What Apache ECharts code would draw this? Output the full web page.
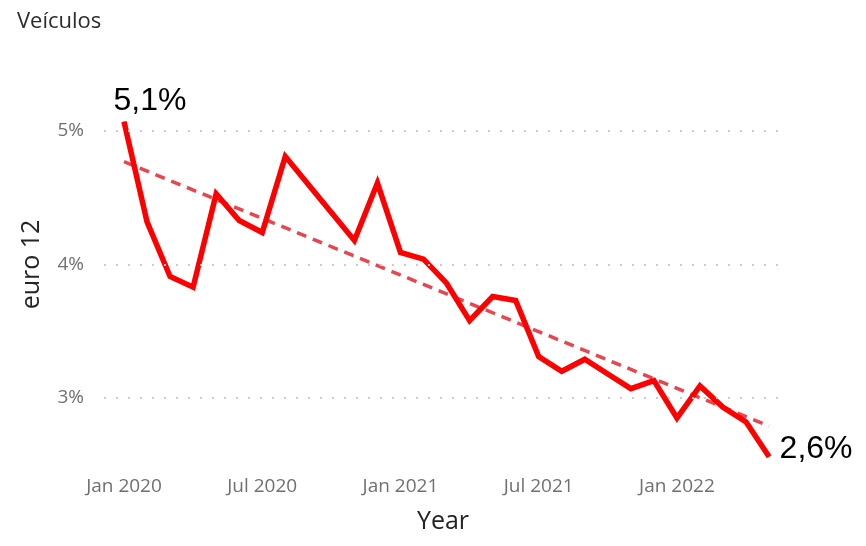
<!DOCTYPE html>
<html>
<head>
<meta charset="utf-8">
<script src="https://cdn.jsdelivr.net/npm/echarts@6/dist/echarts.min.js"></script>
<style>
html,body{margin:0;padding:0;background:#fff;}
#chart{width:866px;height:546px;}
</style>
</head>
<body>
<div id="chart"></div>
<script>
// ---- data ----
const categories = ['Jan 2020','Feb 2020','Mar 2020','Apr 2020','May 2020','Jun 2020','Jul 2020','Aug 2020','Sep 2020','Oct 2020','Nov 2020','Dec 2020',
  'Jan 2021','Feb 2021','Mar 2021','Apr 2021','May 2021','Jun 2021','Jul 2021','Aug 2021','Sep 2021','Oct 2021','Nov 2021','Dec 2021',
  'Jan 2022','Feb 2022','Mar 2022','Apr 2022','May 2022'];
const euro12 = [5.07, 4.32, 3.91, 3.83, 4.53, 4.33, 4.24, 4.81, 4.60, 4.39, 4.18, 4.61,
  4.09, 4.04, 3.86, 3.58, 3.76, 3.73, 3.31, 3.20, 3.29, 3.18, 3.07, 3.13,
  2.85, 3.09, 2.93, 2.82, 2.56];
const trendEnds = [4.77, 2.79];
const xTickLabels = ['Jan 2020','Jul 2020','Jan 2021','Jul 2021','Jan 2022'];
const yTickValues = [3, 4, 5];

const xTickIdx = xTickLabels.map(l => categories.indexOf(l));
const last = euro12.length - 1;
const fmtPct = v => v.toFixed(1).replace('.', ',') + '%';

const lineData = euro12.map((v, i) => {
  const item = { value: [i, v] };
  if (i === 0) {
    item.label = { show: true, position: 'top', distance: 3, offset: [26, -1] };
  } else if (i === last) {
    item.label = { show: true, position: 'right', distance: 10, offset: [0, -8] };
  }
  return item;
});

const chart = echarts.init(document.getElementById('chart'), null, { renderer: 'canvas' });
chart.setOption({
  animation: false,
  backgroundColor: '#ffffff',
  title: {
    text: 'Veículos', left: 12, top: 6,
    textStyle: { fontFamily: 'Open Sans', fontSize: 22, fontWeight: 500, color: '#2b2b2b' }
  },
  grid: { left: 104, right: 84, top: 64.25, bottom: 81.25 },
  xAxis: {
    type: 'value', min: -0.868, max: 28.56,
    name: 'Year', nameLocation: 'middle', nameGap: 45,
    nameTextStyle: { fontFamily: 'Open Sans', fontSize: 25, color: '#252423' },
    axisLine: { show: false }, axisTick: { show: false }, splitLine: { show: false },
    axisLabel: {
      customValues: xTickIdx, margin: 12,
      fontFamily: 'Open Sans', fontSize: 19, color: '#707070',
      formatter: v => categories[Math.round(v)]
    }
  },
  yAxis: {
    type: 'value', min: 2.5, max: 5.5,
    name: 'euro 12', nameLocation: 'middle', nameGap: 60, nameRotate: 90,
    nameTextStyle: { fontFamily: 'Open Sans', fontSize: 25, color: '#252423' },
    axisLine: { show: false }, axisTick: { show: false }, splitLine: { show: false },
    axisLabel: {
      customValues: yTickValues, margin: 20,
      fontFamily: 'Open Sans', fontSize: 19, color: '#707070',
      formatter: v => Math.round(v) + '%'
    }
  },
  series: [
    {
      type: 'line', name: 'grid', data: [], z: 1, silent: true,
      markLine: {
        silent: true, symbol: 'none', label: { show: false },
        lineStyle: { type: [2, 10], color: '#cccccc', width: 2 },
        data: yTickValues.map(v => ({ yAxis: v }))
      }
    },
    {
      type: 'line', name: 'trend', z: 2,
      data: [[0, trendEnds[0]], [last, trendEnds[1]]],
      showSymbol: false, symbol: 'none',
      lineStyle: { color: '#e9454f', width: 3.5, type: [10, 7] }
    },
    {
      type: 'line', name: 'euro 12', z: 3,
      data: lineData,
      showSymbol: true, showAllSymbol: true, symbol: 'circle', symbolSize: 1,
      itemStyle: { color: '#ff0000' },
      lineStyle: { color: '#ff0000', width: 5.5, join: 'miter' },
      label: {
        show: false, formatter: p => fmtPct(p.value[1]),
        fontFamily: 'Liberation Sans', fontSize: 32, color: '#000000'
      }
    }
  ]
});
</script>
</body>
</html>
